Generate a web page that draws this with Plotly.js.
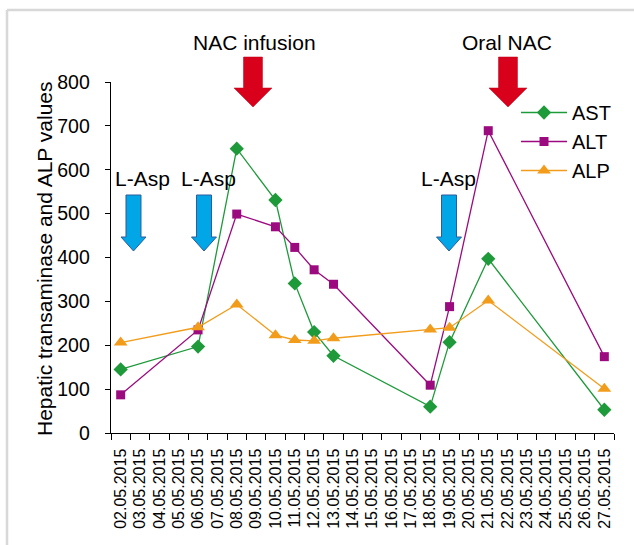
<!DOCTYPE html>
<html>
<head>
<meta charset="utf-8">
<script src="https://cdn.plot.ly/plotly-3.0.1.min.js"></script>
<style>html,body{margin:0;padding:0;background:#fff;}#chart{width:634px;height:545px;}</style>
</head>
<body>
<div id="chart"></div>
<script>
const dates = ["02.05.2015","03.05.2015","04.05.2015","05.05.2015","06.05.2015","07.05.2015","08.05.2015","09.05.2015","10.05.2015","11.05.2015","12.05.2015","13.05.2015","14.05.2015","15.05.2015","16.05.2015","17.05.2015","18.05.2015","19.05.2015","20.05.2015","21.05.2015","22.05.2015","23.05.2015","24.05.2015","25.05.2015","26.05.2015","27.05.2015"];
const sampleDates = ["02.05.2015","06.05.2015","08.05.2015","10.05.2015","11.05.2015","12.05.2015","13.05.2015","18.05.2015","19.05.2015","21.05.2015","27.05.2015"];
const astValues = [145, 197, 648, 531, 341, 230, 176, 60, 207, 397, 53];
const altValues = [87, 235, 499, 470, 423, 372, 339, 109, 288, 689, 174];
const alpValues = [206, 241, 293, 223, 212, 210, 216, 236, 240, 302, 101];
const yTicks = [0, 100, 200, 300, 400, 500, 600, 700, 800];
const yTitle = 'Hepatic transaminase and ALP values';

// figure geometry (pixels) for decorations
const L = 111, R = 614, T = 82, B = 433;
const W = 634, H = 545;
const px = x => (x - L) / (R - L);
const py = y => (B - y) / (B - T);

function arrowPath(cx, top, headStart, tip, shaftHalf, headHalf) {
  const pts = [[cx - shaftHalf, top], [cx + shaftHalf, top], [cx + shaftHalf, headStart], [cx + headHalf, headStart], [cx, tip], [cx - headHalf, headStart], [cx - shaftHalf, headStart]];
  return 'M' + pts.map(p => px(p[0]).toFixed(5) + ',' + py(p[1]).toFixed(5)).join(' L') + ' Z';
}

const redArrows = [253, 508];
const blueArrows = [133.5, 204, 449];
const shapes = [];
redArrows.forEach(cx => shapes.push({type: 'path', xref: 'paper', yref: 'paper', path: arrowPath(cx, 57, 88, 107, 9.5, 19), fillcolor: '#d9001b', line: {color: '#c00018', width: 0.5}, layer: 'above'}));
blueArrows.forEach(cx => shapes.push({type: 'path', xref: 'paper', yref: 'paper', path: arrowPath(cx, 195, 237, 251, 7.5, 12.5), fillcolor: '#00a6e6', line: {color: '#2f5b9c', width: 1}, layer: 'above'}));
// light frame lines
shapes.push({type: 'line', xref: 'paper', yref: 'paper', x0: px(7), x1: px(634), y0: py(10), y1: py(10), line: {color: '#d8d8d8', width: 2.5}});
shapes.push({type: 'line', xref: 'paper', yref: 'paper', x0: px(7), x1: px(7), y0: py(10), y1: py(545), line: {color: '#d8d8d8', width: 2.5}});

const annFont = {family: 'Liberation Sans, Arial, sans-serif', size: 21, color: '#000'};
const annotations = [
  {text: 'NAC infusion', x: px(254), y: py(42)},
  {text: 'Oral NAC', x: px(507), y: py(42)},
  {text: 'L-Asp', x: px(142), y: py(178)},
  {text: 'L-Asp', x: px(208), y: py(178)},
  {text: 'L-Asp', x: px(448), y: py(178)},
  {text: yTitle, x: px(44), y: py(259), textangle: -90}
].map(a => Object.assign({xref: 'paper', yref: 'paper', showarrow: false, xanchor: 'center', yanchor: 'middle', font: annFont}, a));

const lineW = 1.3;
const traces = [
  {name: 'AST', x: sampleDates, y: astValues, type: 'scatter', mode: 'lines+markers', line: {color: '#1e9a3a', width: lineW}, marker: {symbol: 'diamond', size: 11, color: '#1e9a3a'}},
  {name: 'ALT', x: sampleDates, y: altValues, type: 'scatter', mode: 'lines+markers', line: {color: '#9c0a7f', width: lineW}, marker: {symbol: 'square', size: 9, color: '#9c0a7f'}},
  {name: 'ALP', x: sampleDates, y: alpValues, type: 'scatter', mode: 'lines+markers', line: {color: '#f29c1b', width: lineW}, marker: {symbol: 'triangle-up', size: 12, color: '#f29c1b'}}
];

const layout = {
  width: W, height: H,
  margin: {l: L, r: W - R, t: T, b: H - B, pad: 0},
  paper_bgcolor: '#fff', plot_bgcolor: '#fff',
  font: {family: 'Liberation Sans, Arial, sans-serif', color: '#000'},
  showlegend: true,
  legend: {x: px(516), y: py(93), xanchor: 'left', yanchor: 'top', bgcolor: 'rgba(0,0,0,0)', font: {size: 20, color: '#000'}, itemwidth: 46},
  xaxis: {
    type: 'category', categoryorder: 'array', categoryarray: dates,
    range: [-0.5, dates.length - 0.5], tickvals: dates,
    tickangle: -90, tickfont: {size: 16, color: '#000'},
    ticks: 'outside', ticklen: 6, tickwidth: 1, tickcolor: '#000', tickson: 'boundaries',
    showline: true, linecolor: '#000', linewidth: 1.3, showgrid: false, zeroline: false,
    ticklabelstandoff: 8, automargin: false
  },
  yaxis: {
    range: [0, 800], tickvals: yTicks, tickfont: {size: 19.5, color: '#000'},
    ticks: 'outside', ticklen: 5, tickwidth: 1, tickcolor: '#000',
    showline: true, linecolor: '#000', linewidth: 1.3, showgrid: false, zeroline: false,
    ticklabelstandoff: 11, automargin: false
  },
  shapes: shapes,
  annotations: annotations
};

Plotly.newPlot('chart', traces, layout, {staticPlot: true, displayModeBar: false});
</script>
</body>
</html>
